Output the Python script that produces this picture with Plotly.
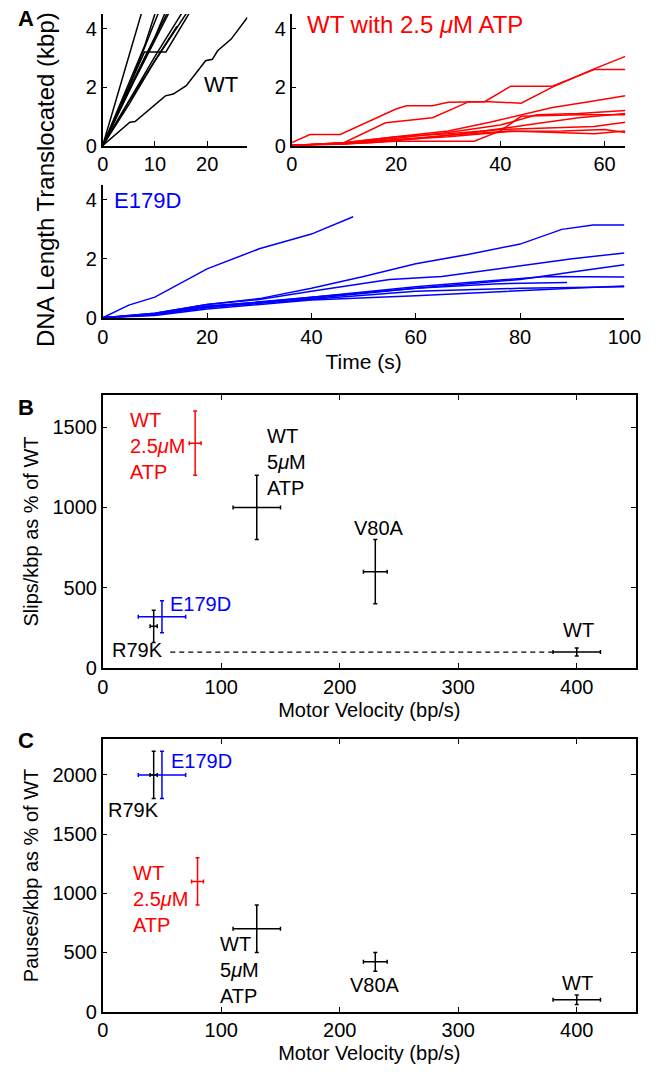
import plotly.graph_objects as go

# ---- panel A data: DNA translocated (kbp) vs time (s) ----
wt_t = [
    [0, 3, 8.2],
    [0, 4, 8, 10.9],
    [0, 5, 11.7],
    [0, 5, 10, 13.0],
    [0, 4, 8, 13.7],
    [0, 6, 14.0],
    [0, 4, 8, 12.1, 16.6, 17.5],
    [0, 5, 10, 14.2],
    [0, 5, 10, 15, 16.7],
    [0, 5, 10, 15.4],
    [0, 2, 5.2, 6.2, 9.8, 12, 13.5, 16, 19.7, 21, 22, 24.6, 27.7],
]
wt_kbp = [
    [0, 1.8, 5.0],
    [0, 1.7, 3.4, 5.0],
    [0, 2.0, 5.0],
    [0, 1.9, 3.7, 5.0],
    [0, 1.5, 3.0, 5.0],
    [0, 2.2, 5.0],
    [0, 1.6, 3.2, 3.2, 4.5, 4.8],
    [0, 1.5, 2.9, 4.07],
    [0, 1.4, 2.9, 4.2, 4.7],
    [0, 1.55, 3.05, 4.6],
    [0, 0.3, 0.8, 0.82, 1.36, 1.7, 1.76, 2.05, 2.9, 2.95, 3.24, 3.64, 4.38],
]

atp_t = [
    [0, 3.5, 9.3, 20, 22, 27, 30, 37, 42, 50, 58, 64],
    [0, 10, 18, 22, 27, 34, 38, 44, 50, 58, 64],
    [0, 10, 20, 30, 38, 45, 50, 57, 64],
    [0, 10, 20, 30, 40, 47, 55, 64],
    [0, 10, 20, 35, 40, 44, 55, 64],
    [0, 10, 20, 30, 40, 50, 58, 64],
    [0, 10, 20, 30, 42, 50, 58, 64],
    [0, 10, 20, 30, 42, 52, 60, 64],
    [0, 15, 25, 35, 45, 55, 64],
]
atp_kbp = [
    [0.1, 0.38, 0.38, 1.25, 1.36, 1.36, 1.48, 1.5, 2.03, 2.03, 2.6, 2.6],
    [0, 0.1, 0.78, 0.85, 0.95, 1.5, 1.5, 1.45, 2.0, 2.62, 3.05],
    [0, 0.1, 0.3, 0.5, 0.8, 1.1, 1.3, 1.5, 1.7],
    [0, 0.08, 0.25, 0.45, 0.7, 1.05, 1.1, 1.2],
    [0, 0.05, 0.15, 0.15, 0.5, 1.0, 1.05, 1.05],
    [0, 0.1, 0.3, 0.4, 0.55, 0.6, 0.65, 0.8],
    [0, 0.08, 0.2, 0.35, 0.5, 0.45, 0.4, 0.5],
    [0, 0.05, 0.2, 0.3, 0.48, 0.5, 0.55, 0.45],
    [0, 0.1, 0.25, 0.45, 0.7, 0.95, 1.1],
]

e179d_t = [
    [0, 5, 10, 20, 30, 40, 48],
    [0, 10, 20, 30, 40, 50, 60, 70, 80, 88, 94, 100],
    [0, 10, 20, 30, 40, 55, 65, 80, 90, 100],
    [0, 10, 20, 40, 60, 70, 80, 90, 100],
    [0, 10, 20, 40, 60, 70, 85, 100],
    [0, 10, 20, 40, 60, 75, 89],
    [0, 10, 20, 40, 60, 80, 100],
    [0, 10, 20, 40, 60, 80, 90, 100],
]
e179d_kbp = [
    [0, 0.43, 0.7, 1.66, 2.34, 2.84, 3.43],
    [0, 0.15, 0.45, 0.65, 1.0, 1.4, 1.83, 2.15, 2.5, 3.0, 3.15, 3.15],
    [0, 0.15, 0.45, 0.62, 0.9, 1.3, 1.4, 1.75, 2.0, 2.2],
    [0, 0.12, 0.4, 0.65, 1.0, 1.15, 1.3, 1.55, 1.8],
    [0, 0.12, 0.38, 0.7, 1.05, 1.2, 1.4, 1.38],
    [0, 0.1, 0.35, 0.7, 1.0, 1.15, 1.2],
    [0, 0.1, 0.35, 0.62, 0.9, 1.0, 1.05],
    [0, 0.08, 0.3, 0.6, 0.75, 0.9, 1.0, 1.08],
]

# ---- panels B and C: velocity vs slips / pauses ----
mutants = ["WT 2.5uM ATP", "WT 5uM ATP", "V80A", "WT", "E179D", "R79K"]
mut_colors = ["red", "black", "black", "black", "blue", "black"]
velocity = [78, 130, 230, 400, 50, 43]
velocity_err = [5, 20, 10, 20, 20, 3]
slips = [1400, 1000, 600, 100, 320, 260]
slips_err = [200, 200, 200, 25, 100, 100]

pause_velocity = [80, 130, 230, 400, 50, 43]
pauses = [1100, 700, 420, 100, 2000, 2000]
pauses_err = [200, 200, 80, 40, 200, 200]

font = "Liberation Sans, Arial, sans-serif"
fig = go.Figure()

def add_lines(ts, ys, color, xa, ya):
    for t, y in zip(ts, ys):
        fig.add_trace(go.Scatter(x=t, y=y, mode="lines", xaxis=xa, yaxis=ya,
                                 line=dict(color=color, width=1.5), showlegend=False))

add_lines(wt_t, wt_kbp, "black", "x", "y")
add_lines(atp_t, atp_kbp, "#ff0000", "x2", "y2")
add_lines(e179d_t, e179d_kbp, "#0000ff", "x3", "y3")

def add_points(vx, vy, ex, ey, xa, ya):
    for i in range(len(vx)):
        c = mut_colors[i]
        fig.add_trace(go.Scatter(
            x=[vx[i]], y=[vy[i]], mode="markers", xaxis=xa, yaxis=ya,
            marker=dict(size=0.1, color=c), showlegend=False,
            error_x=dict(type="data", array=[ex[i]], color=c, thickness=1.5, width=2),
            error_y=dict(type="data", array=[ey[i]], color=c, thickness=1.5, width=2)))

add_points(velocity, slips, velocity_err, slips_err, "x4", "y4")
add_points(pause_velocity, pauses, velocity_err, pauses_err, "x5", "y5")

# dashed guide in B from R79K to WT
fig.add_trace(go.Scatter(x=[57, 380], y=[slips[3], slips[3]], mode="lines",
                         xaxis="x4", yaxis="y4", showlegend=False,
                         line=dict(color="black", width=1.2, dash="5px,4px")))

# the page body keeps an 8px margin, so the figure is drawn 16px smaller
OFF = 8
W, H = 661 - 2 * OFF, 1084 - 2 * OFF
def px_x(a, b):
    return [(a - OFF) / W, (b - OFF) / W]
def px_y(top, bot):
    return [1 - (bot - OFF) / H, 1 - (top - OFF) / H]
def pap_x(a):
    return (a - OFF) / W
def pap_y(a):
    return 1 - (a - OFF) / H

axA = dict(showline=True, linecolor="black", linewidth=1.5, ticks="inside", ticklen=5,
           tickcolor="black", showgrid=False, zeroline=False, mirror=False,
           ticklabeloverflow="allow",
           tickfont=dict(family=font, size=20, color="black"))
axB = dict(showline=True, linecolor="black", linewidth=1.5, ticks="inside", ticklen=5,
           tickcolor="black", showgrid=False, zeroline=False, mirror="ticks",
           tickfont=dict(family=font, size=20, color="black"))

fig.update_layout(
    width=W, height=H, margin=dict(l=0, r=0, t=0, b=0),
    plot_bgcolor="white", paper_bgcolor="white",
    font=dict(family=font, color="black"),
    xaxis=dict(axA, domain=px_x(100, 250), range=[0, 27.7], tickvals=[0, 10, 20], anchor="y"),
    yaxis=dict(axA, domain=px_y(14, 147), range=[0, 4.5], tickvals=[0, 2, 4], anchor="x"),
    xaxis2=dict(axA, domain=px_x(296, 642), range=[0, 64], tickvals=[0, 20, 40, 60], anchor="y2"),
    yaxis2=dict(axA, domain=px_y(14, 147), range=[0, 4.5], tickvals=[0, 2, 4], anchor="x2"),
    xaxis3=dict(axA, domain=px_x(100, 641), range=[0, 100], tickvals=[0, 20, 40, 60, 80, 100],
                anchor="y3", title=dict(text="Time (s)", font=dict(size=21), standoff=8)),
    yaxis3=dict(axA, domain=px_y(187, 321), range=[0, 4.5], tickvals=[0, 2, 4], anchor="x3"),
    xaxis4=dict(axB, domain=px_x(100, 653), range=[0, 450], tickvals=[0, 100, 200, 300, 400],
                anchor="y4", title=dict(text="Motor Velocity (bp/s)", font=dict(size=20), standoff=6)),
    yaxis4=dict(axB, domain=px_y(399, 675), range=[0, 1700], tickvals=[0, 500, 1000, 1500],
                anchor="x4", title=dict(text="Slips/kbp as % of WT", font=dict(size=20), standoff=8)),
    xaxis5=dict(axB, domain=px_x(100, 653), range=[0, 450], tickvals=[0, 100, 200, 300, 400],
                anchor="y5", title=dict(text="Motor Velocity (bp/s)", font=dict(size=20), standoff=6)),
    yaxis5=dict(axB, domain=px_y(747, 1022), range=[0, 2300], tickvals=[0, 500, 1000, 1500, 2000],
                anchor="x5", title=dict(text="Pauses/kbp as % of WT", font=dict(size=20), standoff=8)),
)

def note(text, x, y, xa, ya, color="black", size=20, xanchor="left"):
    fig.add_annotation(text=text, x=x, y=y, xref=xa, yref=ya, showarrow=False,
                       xanchor=xanchor, yanchor="middle", align="left",
                       font=dict(family=font, size=size, color=color))

mu = "<i>μ</i>"
# panel A labels
note("WT", 22.6, 2.1, "x", "y", size=22, xanchor="center")
note("WT with 2.5 " + mu + "M ATP", 2.6, 4.14, "x2", "y2", color="#ff0000", size=24)
note("E179D", 1.8, 3.97, "x3", "y3", color="#0000ff", size=22)
fig.add_annotation(text="DNA Length Translocated (kbp)", x=pap_x(40), y=pap_y(181),
                   xref="paper", yref="paper", showarrow=False, textangle=-90,
                   xanchor="center", yanchor="middle",
                   font=dict(family=font, size=24, color="black"))

# panel B labels
note("WT<br>2.5" + mu + "M<br>ATP", 21, 1385, "x4", "y4", color="#ff0000")
note("WT<br>5" + mu + "M<br>ATP", 137, 1281, "x4", "y4")
note("V80A", 233, 874, "x4", "y4", xanchor="center")
note("WT", 401.6, 240, "x4", "y4", xanchor="center")
note("E179D", 55.4, 400, "x4", "y4", color="#0000ff")
note("R79K", 6.5, 111, "x4", "y4")

# panel C labels
note("E179D", 56, 2117, "x5", "y5", color="#0000ff")
note("R79K", 2.4, 1707, "x5", "y5")
note("WT<br>2.5" + mu + "M<br>ATP", 23.6, 954, "x5", "y5", color="#ff0000")
note("WT<br>5" + mu + "M<br>ATP", 97, 351, "x5", "y5")
note("V80A", 230, 226, "x5", "y5", xanchor="center")
note("WT", 401, 243, "x5", "y5", xanchor="center")

for letter, py in [("A", 19), ("B", 412), ("C", 748)]:
    fig.add_annotation(text="<b>" + letter + "</b>", x=pap_x(10), y=pap_y(py),
                       xref="paper", yref="paper", showarrow=False, xanchor="left",
                       yanchor="middle", font=dict(family=font, size=22, color="black"))

fig.write_html("out.html")
